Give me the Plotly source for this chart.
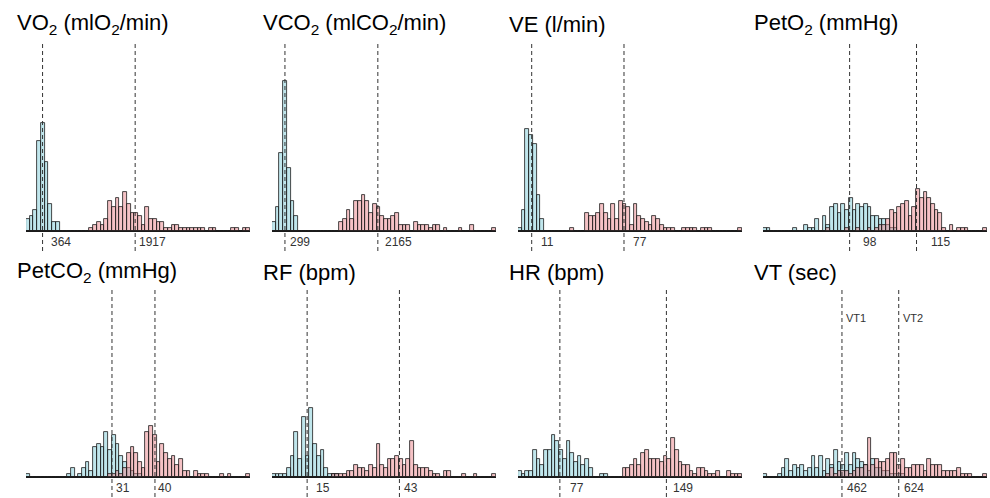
import plotly.graph_objects as go

NBINS = 60

TITLES = ["VO<sub>2</sub> (mlO<sub>2</sub>/min)", "VCO<sub>2</sub> (mlCO<sub>2</sub>/min)",
          "VE (l/min)", "PetO<sub>2</sub> (mmHg)",
          "PetCO<sub>2</sub> (mmHg)", "RF (bpm)", "HR (bpm)", "VT (sec)"]
X_MIN = [86, 39, 1.2, 76.0, 13.0, 4.34, 48.7, 236.6]
X_MAX = [3843, 4539, 161.4, 132.9, 59.9, 72.3, 200.1, 876]
MED_VT1 = [364, 299, 11, 98, 31, 15, 77, 462]
MED_VT2 = [1917, 2165, 77, 115, 40, 43, 149, 624]

# histogram counts per bin (60 bins spanning X_MIN..X_MAX); VT1 = blue, VT2 = red
VO2_VT1 = [4,5,7,30,36,23,9,3,3,0, 0,0,0,0,0,0,0,0,0,0,
           0,0,0,0,0,0,0,0,0,0, 0,0,0,0,0,0,0,0,0,0,
           0,0,0,0,0,0,0,0,0,0, 0,0,0,0,0,0,0,0,0,0]
VO2_VT2 = [0,0,0,0,0,0,0,0,0,0, 0,0,0,0,0,0,0,1,2,3,
           2,4,10,8,11,8,13,9,6,6, 5,2,8,4,4,3,3,1,1,2,
           2,1,1,1,1,1,1,1,0,1, 1,0,0,0,0,1,1,0,1,1]
VCO2_VT1 = [3,8,26,50,21,10,5,0,0,0, 0,0,0,0,0,0,0,0,0,0,
            0,0,0,0,0,0,0,0,0,0, 0,0,0,0,0,0,0,0,0,0,
            0,0,0,0,0,0,0,0,0,0, 0,0,0,0,0,0,0,0,0,0]
VCO2_VT2 = [0,0,0,0,0,0,0,0,0,0, 0,0,0,0,0,0,0,0,3,4,
            7,4,10,10,12,10,6,9,8,5, 4,4,5,6,2,2,2,0,3,2,
            2,2,1,2,2,0,1,0,0,0, 1,0,0,2,0,0,0,0,0,1]
VE_VT1 = [1,7,34,32,29,12,4,0,0,0, 0,0,0,0,0,0,0,0,0,0,
          0,0,0,0,0,0,0,0,0,0, 0,0,0,0,0,0,0,0,0,0,
          0,0,0,0,0,0,0,0,0,0, 0,0,0,0,0,0,0,0,0,0]
VE_VT2 = [0,0,0,0,0,0,0,0,0,0, 0,0,0,0,1,0,0,0,6,5,
          5,6,9,6,4,9,4,10,9,8, 2,9,5,4,3,2,5,4,2,1,
          1,1,0,0,1,1,1,1,0,1, 1,1,0,0,0,0,0,0,0,1]
PETO2_VT1 = [1,1,0,0,0,0,0,0,1,0, 0,2,1,1,4,0,5,2,8,9,
             6,9,7,11,7,9,8,9,8,5, 5,4,4,2,1,1,0,0,0,0,
             0,0,0,0,0,0,0,0,0,0, 0,0,0,0,0,0,0,0,0,0]
PETO2_VT2 = [0,0,0,0,0,0,0,0,0,0, 0,0,0,0,0,0,0,1,0,0,
             0,0,1,0,0,1,0,0,1,0, 1,2,2,4,7,6,8,9,10,5,
             8,14,11,13,11,9,7,6,1,0, 2,0,1,1,1,0,0,0,0,1]
PETCO2_VT1 = [1,0,0,0,0,0,0,0,0,0, 0,1,3,0,1,3,5,2,10,11,
              10,15,9,14,11,7,5,3,2,1, 1,0,0,0,0,0,0,0,0,0,
              0,0,0,0,0,0,0,0,0,0, 0,0,0,0,0,0,0,0,0,0]
PETCO2_VT2 = [0,0,0,0,0,0,0,0,0,0, 0,0,0,0,0,0,0,0,0,0,
              0,0,1,1,2,1,3,8,10,8, 5,3,15,17,14,5,11,8,6,7,
              4,6,2,2,0,2,1,1,1,0, 0,0,1,0,1,0,0,0,0,1]
RF_VT1 = [1,1,1,1,3,7,15,6,20,7, 23,11,7,9,3,1,1,1,0,0,
          0,0,0,0,0,0,0,0,0,0, 0,0,0,0,0,0,0,0,0,0,
          0,0,0,0,0,0,0,0,0,0, 0,0,0,0,0,0,0,0,0,0]
RF_VT2 = [0,0,0,0,0,0,0,0,0,0, 0,0,0,0,0,0,1,1,1,1,
          2,2,4,3,3,2,4,3,11,4, 3,6,6,7,6,4,6,12,4,3,
          3,3,2,1,1,0,2,2,0,0, 0,1,0,0,1,0,0,0,0,1]
HR_VT1 = [2,1,2,2,9,6,4,9,9,14, 12,9,6,12,8,5,7,4,6,3,
          0,0,1,1,0,0,0,0,0,0, 0,0,0,0,0,0,0,0,0,0,
          0,0,0,0,0,0,0,0,0,0, 0,0,0,0,0,0,0,0,0,0]
HR_VT2 = [0,0,0,0,0,0,0,0,0,0, 0,0,0,0,0,0,0,0,0,0,
          0,0,0,0,0,0,0,0,3,3, 4,6,4,8,9,6,6,6,5,7,
          6,13,9,5,4,4,2,1,3,3, 2,1,1,2,0,0,2,1,1,1]
VT_VT1 = [1,0,0,0,1,3,6,2,4,3, 4,2,3,7,3,7,2,6,4,9,
          5,4,8,4,8,6,5,4,2,6, 3,3,2,2,1,1,1,1,0,0,
          0,0,0,0,0,0,0,0,0,0, 0,0,0,0,0,0,0,0,0,0]
VT_VT2 = [0,0,0,0,0,0,0,0,0,0, 0,0,0,0,0,0,0,1,3,1,
          2,2,2,1,2,3,3,4,13,4, 6,5,5,6,8,8,4,6,3,3,
          4,4,4,2,6,4,4,4,2,2, 2,2,3,1,1,1,0,0,0,1]

SERIES_VT1 = [VO2_VT1, VCO2_VT1, VE_VT1, PETO2_VT1, PETCO2_VT1, RF_VT1, HR_VT1, VT_VT1]
SERIES_VT2 = [VO2_VT2, VCO2_VT2, VE_VT2, PETO2_VT2, PETCO2_VT2, RF_VT2, HR_VT2, VT_VT2]
VT_LABELS = ["VT1", "VT2"]

# ---------------- layout / style ----------------
W, H = 990, 498
COL_X0 = [26, 272, 518, 763]
PANEL_W = 224
ROW_BASE = [231, 477]   # baseline pixel y
ROW_TOP = [42, 288]     # top of plotting area pixel y
Y_MAX = 63
BLUE = "rgba(130,206,218,0.5)"
RED = "rgba(234,128,134,0.48)"
LABEL_SHIFT = [(6, 2), (3, 5), (7, 7), (11, 12), (2, 1), (7, 3), (8, 5), (3, 3)]
FONT = "Liberation Sans, Arial, Helvetica, sans-serif"

fig = go.Figure()
shapes, annotations = [], []

for i in range(8):
    row, col = divmod(i, 4)
    ax = "" if i == 0 else str(i + 1)
    xa, ya = "x" + ax, "y" + ax
    lo, hi = X_MIN[i], X_MAX[i]
    w = (hi - lo) / NBINS
    centers = [lo + (k + 0.5) * w for k in range(NBINS)]
    for counts, color in ((SERIES_VT1[i], BLUE), (SERIES_VT2[i], RED)):
        fig.add_trace(go.Bar(x=centers, y=counts, width=w, xaxis=xa, yaxis=ya,
                             marker=dict(color=color, line=dict(color="#1a1a1a", width=0.8)),
                             showlegend=False, hoverinfo="x+y"))
    x0 = COL_X0[col] / W
    x1 = (COL_X0[col] + PANEL_W) / W
    y0 = (H - ROW_BASE[row]) / H
    y1 = (H - ROW_TOP[row]) / H
    fig.update_layout(**{
        "xaxis" + ax: dict(domain=[x0, x1], range=[lo, hi], anchor=ya, showline=True,
                           linecolor="#1a1a1a", linewidth=1, showticklabels=False,
                           ticks="", showgrid=False, zeroline=False),
        "yaxis" + ax: dict(domain=[y0, y1], range=[0, Y_MAX], anchor=xa, visible=False),
    })
    ybot = (H - ROW_BASE[row] - 20) / H
    ylab = (H - ROW_BASE[row] - 11) / H
    for j, med in enumerate((MED_VT1[i], MED_VT2[i])):
        shapes.append(dict(type="line", xref=xa, yref="paper", x0=med, x1=med,
                           y0=max(ybot, 0), y1=y1,
                           line=dict(color="#333333", width=1, dash="4px,3px")))
        annotations.append(dict(xref=xa, yref="paper", x=med, y=ylab, text=str(med),
                                showarrow=False, xanchor="left", yanchor="middle",
                                xshift=LABEL_SHIFT[i][j],
                                font=dict(family=FONT, size=12, color="#333333")))
        if i == 7:
            annotations.append(dict(xref=xa, yref="paper", x=med, y=(H - 318) / H,
                                    text=VT_LABELS[j], showarrow=False, xanchor="left",
                                    yanchor="middle", xshift=2,
                                    font=dict(family=FONT, size=11, color="#333333")))
    annotations.append(dict(xref="paper", yref="paper", x=(COL_X0[col] - 11) / W,
                            y=(H - (24 if row == 0 else 272)) / H, text=TITLES[i],
                            showarrow=False, xanchor="left", yanchor="middle",
                            font=dict(family=FONT, size=22, color="black")))

fig.update_layout(width=W, height=H, margin=dict(l=0, r=0, t=0, b=0),
                  paper_bgcolor="white", plot_bgcolor="white", barmode="overlay",
                  bargap=0, shapes=shapes, annotations=annotations)

fig.write_html("out.html", config={"displayModeBar": False},
               post_script="document.body.style.margin='0px';")
